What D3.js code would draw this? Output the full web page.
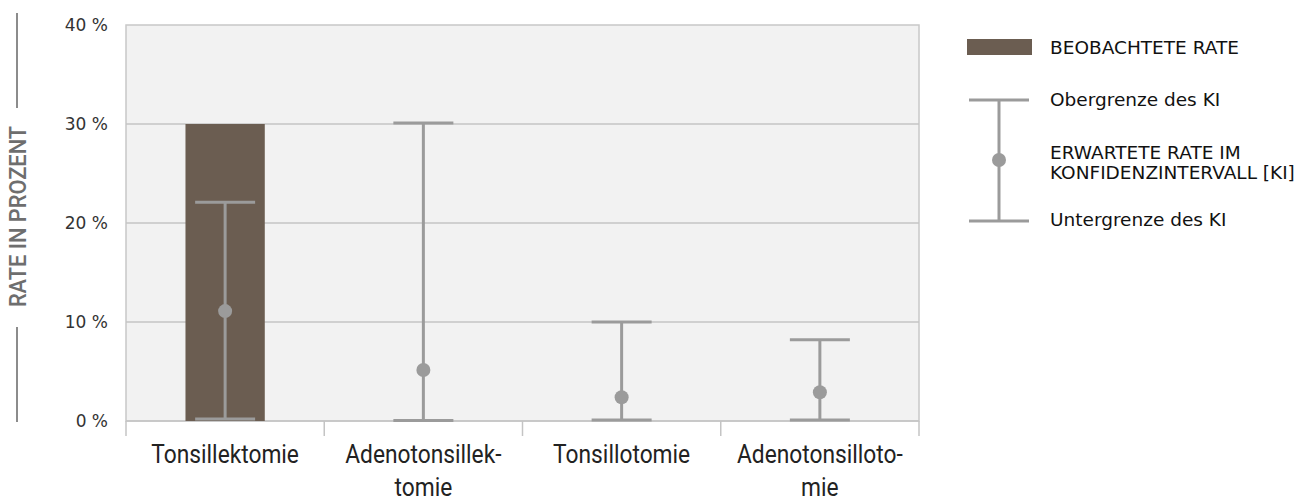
<!DOCTYPE html>
<html><head><meta charset="utf-8">
<script src="https://cdn.jsdelivr.net/npm/d3@7"></script>
<style>body{margin:0;background:#fff}</style>
</head><body>
<svg id="c" width="1311" height="503"></svg>
<script>
const categories = ["Tonsillektomie","Adenotonsillektomie","Tonsillotomie","Adenotonsillotomie"];
const categoryLines = [["Tonsillektomie"],["Adenotonsillek-","tomie"],["Tonsillotomie"],["Adenotonsilloto-","mie"]];
const observed = [30, 0, 0, 0];
const expected = [11.1, 5.15, 2.4, 2.9];
const upperCI = [22.1, 30.1, 10.0, 8.2];
const lowerCI = [0.2, 0.05, 0.1, 0.1];
const yTicks = [0, 10, 20, 30, 40];
const legendLabels = ["BEOBACHTETE RATE","Obergrenze des KI",["ERWARTETE RATE IM","KONFIDENZINTERVALL [KI]"],"Untergrenze des KI"];

const svg = d3.select("#c");
const L = 126, R = 919, T = 25, B = 421;
const x = d3.scaleBand().domain(categories).range([L, R]).paddingInner(0).paddingOuter(0);
const y = d3.scaleLinear().domain([0, 40]).range([B, T]);
const barColor = "#6b5d51", errColor = "#9b9b9b";

svg.append("rect").attr("x", L).attr("y", T).attr("width", R - L).attr("height", B - T)
  .attr("fill", "#f2f2f2").attr("stroke", "#c8c8c8").attr("stroke-width", 1.5);

svg.append("g").selectAll("line").data(yTicks.slice(1, -1)).join("line")
  .attr("x1", L).attr("x2", R).attr("y1", d => y(d)).attr("y2", d => y(d))
  .attr("stroke", "#c4c4c4").attr("stroke-width", 1.5);

const yAxis = d3.axisLeft(y).tickValues(yTicks).tickFormat(d => d + " %").tickSize(0).tickPadding(18);
const gy = svg.append("g").attr("transform", `translate(${L},0)`).call(yAxis);
gy.select(".domain").remove();
gy.selectAll("text").attr("font-family", "DejaVu Sans").attr("font-size", 17).attr("fill", "#333");

svg.append("line").attr("x1", L).attr("x2", R).attr("y1", B).attr("y2", B).attr("stroke", "#c4c4c4").attr("stroke-width", 1.5);
const bounds = categories.map(c => x(c)).concat([R]);
svg.append("g").selectAll("line").data(bounds).join("line")
  .attr("x1", d => d).attr("x2", d => d).attr("y1", B).attr("y2", B + 15)
  .attr("stroke", "#c4c4c4").attr("stroke-width", 1.5);

const labG = svg.append("g");
categories.forEach((c, i) => {
  const cx = x(c) + x.bandwidth() / 2;
  const t = labG.append("text").attr("transform", `translate(${cx},463) scale(0.91,1)`)
    .attr("text-anchor", "middle").attr("font-family", "Roboto")
    .attr("font-size", 25).attr("fill", "#222");
  categoryLines[i].forEach((ln, j) => t.append("tspan").attr("x", 0).attr("dy", j ? 33 : 0).text(ln));
});

const bw = x.bandwidth() * 0.4;
svg.append("g").selectAll("rect").data(categories.map((c, i) => ({c, v: observed[i]})).filter(d => d.v > 0)).join("rect")
  .attr("x", d => x(d.c) + x.bandwidth() / 2 - bw / 2).attr("width", bw)
  .attr("y", d => y(d.v)).attr("height", d => y(0) - y(d.v)).attr("fill", barColor);

const capW = 60;
const eg = svg.append("g");
categories.forEach((c, i) => {
  const cx = x(c) + x.bandwidth() / 2;
  eg.append("line").attr("x1", cx).attr("x2", cx).attr("y1", y(upperCI[i])).attr("y2", y(lowerCI[i])).attr("stroke", errColor).attr("stroke-width", 3);
  [upperCI[i], lowerCI[i]].forEach(v => eg.append("line").attr("x1", cx - capW / 2).attr("x2", cx + capW / 2)
    .attr("y1", y(v)).attr("y2", y(v)).attr("stroke", errColor).attr("stroke-width", 3));
  eg.append("circle").attr("cx", cx).attr("cy", y(expected[i])).attr("r", 7).attr("fill", errColor);
});

svg.append("line").attr("x1", 17).attr("x2", 17).attr("y1", 13).attr("y2", 108).attr("stroke", "#666").attr("stroke-width", 1.5);
svg.append("line").attr("x1", 17).attr("x2", 17).attr("y1", 327).attr("y2", 422).attr("stroke", "#666").attr("stroke-width", 1.5);
svg.append("text").attr("transform", "translate(26,216.5) rotate(-90) scale(0.89,1)").attr("text-anchor", "middle")
  .attr("font-family", "Roboto").attr("font-weight", 500)
  .attr("font-size", 24.5).attr("fill", "#6e6e6e").text("RATE IN PROZENT");

const lg = svg.append("g").attr("font-family", "DejaVu Sans").attr("font-size", 18.5).attr("fill", "#111");
lg.append("rect").attr("x", 967).attr("y", 39).attr("width", 65).attr("height", 16).attr("fill", barColor);
lg.append("text").attr("x", 1050).attr("y", 54).text(legendLabels[0]);
const lx = 999;
lg.append("line").attr("x1", lx).attr("x2", lx).attr("y1", 100).attr("y2", 221).attr("stroke", errColor).attr("stroke-width", 3);
[100, 221].forEach(v => lg.append("line").attr("x1", lx - 30).attr("x2", lx + 30).attr("y1", v).attr("y2", v).attr("stroke", errColor).attr("stroke-width", 3));
lg.append("circle").attr("cx", lx).attr("cy", 160).attr("r", 7).attr("fill", errColor);
lg.append("text").attr("x", 1050).attr("y", 106).text(legendLabels[1]);
const t2 = lg.append("text").attr("x", 1050).attr("y", 159);
legendLabels[2].forEach((s, j) => t2.append("tspan").attr("x", 1050).attr("dy", j ? 20 : 0).text(s));
lg.append("text").attr("x", 1050).attr("y", 226).text(legendLabels[3]);
</script>
</body></html>
